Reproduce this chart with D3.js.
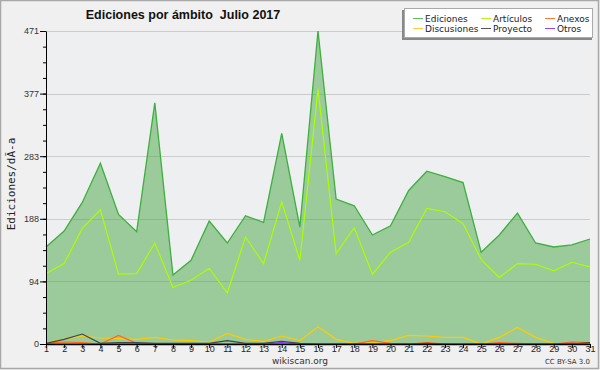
<!DOCTYPE html>
<html>
<head>
<meta charset="utf-8">
<script src="https://cdn.jsdelivr.net/npm/d3@7"></script>
<style>
  body { margin: 0; background: #f0f0f0; }
  svg { display: block; font-family: "DejaVu Sans", sans-serif; }
</style>
</head>
<body>
<div id="chart"></div>
<script>
// days of July 2017
var days = d3.range(1, 32);

// edits per day
var ediciones   = [146,170,213,272,195,169,363,104,126,185,152,193,183,317,176,471,218,208,164,178,231,260,252,243,138,164,197,152,146,149,158];
var articulos   = [106,121,174,202,105,106,152,85,96,114,77,161,121,214,126,384,136,175,105,138,153,204,199,181,127,100,121,120,110,123,116];
var discusiones = [2,7,12,9,8,7,10,6,5,3,16,7,4,12,5,26,7,1,2,5,13,12,10,10,0,10,25,10,1,0,0];
var proyecto    = [1,7,15,1,2,2,1,1,1,1,5,1,1,4,1,0,0,0,0,0,0,1,0,0,0,0,0,0,0,0,2];
var anexos      = [1,3,2,0,13,1,0,0,0,0,0,0,0,0,0,0,0,0,5,1,0,2,0,0,0,2,1,0,0,3,2];
var otros       = [0,0,0,0,0,0,0,0,0,0,0,0,0,2,0,0,0,0,0,0,0,0,0,0,0,0,0,0,0,1,0];

var yTicks = [0, 94.2, 188.4, 282.6, 376.8, 471];
var legendNames = ["Ediciones", "Artículos", "Anexos", "Discusiones", "Proyecto", "Otros"];
var legendColors = ["#5cc45c", "#bbee22", "#ff7733", "#ffcc33", "#555555", "#9944ee"];

var svgWidth = 600, svgHeight = 370;
var plot = { left: 46, right: 590, top: 31, bottom: 344 };

var svg = d3.select("#chart").append("svg")
  .attr("width", svgWidth)
  .attr("height", svgHeight);

// outer frame
svg.append("rect")
  .attr("x", 0.5).attr("y", 0.5)
  .attr("width", svgWidth - 2).attr("height", svgHeight - 2)
  .attr("fill", "#f0f0f0")
  .attr("stroke", "#a8a8a8")
  .attr("stroke-width", 1.5);

// plot background
svg.append("rect")
  .attr("x", plot.left).attr("y", plot.top)
  .attr("width", plot.right - plot.left).attr("height", plot.bottom - plot.top)
  .attr("fill", "#eeeff1");

var x = d3.scaleLinear().domain([1, 31]).range([plot.left, plot.right]);
var y = d3.scaleLinear().domain([0, 471]).range([plot.bottom, plot.top]);

// grid
svg.append("g").selectAll("line")
  .data(yTicks.slice(1))
  .enter().append("line")
  .attr("x1", plot.left).attr("x2", plot.right)
  .attr("y1", d => Math.round(y(d)) + 0.5)
  .attr("y2", d => Math.round(y(d)) + 0.5)
  .attr("stroke", "#cccccc");

// total area
var area = d3.area()
  .x((d, i) => x(days[i]))
  .y0(y(0))
  .y1(d => y(d));

svg.append("path")
  .datum(ediciones)
  .attr("d", area)
  .attr("fill", "rgb(72,165,69)")
  .attr("fill-opacity", 0.5);

var line = d3.line()
  .x((d, i) => x(days[i]))
  .y(d => y(d));

svg.append("path")
  .datum(ediciones)
  .attr("d", line)
  .attr("fill", "none")
  .attr("stroke", "#3cb03c")
  .attr("stroke-width", 1.3);

// the smaller series
var series = [
  [articulos, "#aaff00"],
  [discusiones, "#ffcc00"],
  [anexos, "#ff6622"],
  [proyecto, "#444444"],
  [otros, "#8833ff"]
];
series.forEach(function(s) {
  svg.append("path")
    .datum(s[0])
    .attr("d", line)
    .attr("fill", "none")
    .attr("stroke", s[1])
    .attr("stroke-width", 1.2);
});

// y axis with minor ticks
svg.append("g")
  .attr("transform", `translate(${plot.left},0)`)
  .call(d3.axisLeft(y).tickValues(d3.range(0, 471.01, 23.55)).tickSize(3).tickFormat(""))
  .call(g => g.select(".domain").remove());

var yAxis = svg.append("g")
  .attr("transform", `translate(${plot.left},0)`)
  .call(d3.axisLeft(y).tickValues(yTicks).tickSize(6).tickSizeOuter(0).tickFormat(d3.format(".0f")));
yAxis.selectAll("text").attr("font-size", 9).attr("fill", "#333").attr("x", -7);
yAxis.select(".domain").attr("stroke", "#000");

// x axis
var xAxis = svg.append("g")
  .attr("transform", `translate(0,${plot.bottom})`)
  .call(d3.axisBottom(x).tickValues(days).tickSize(4).tickSizeOuter(0).tickFormat(d3.format("d")));
xAxis.selectAll("text").attr("font-size", 9).attr("fill", "#222").attr("y", 2);
xAxis.select(".domain").attr("stroke", "#000").attr("stroke-width", 1.5);

// title
svg.append("text")
  .attr("x", 183).attr("y", 19)
  .attr("text-anchor", "middle")
  .attr("font-size", 12.5)
  .attr("font-weight", "bold")
  .attr("font-family", "Liberation Sans, Arial, sans-serif")
  .attr("fill", "#111")
  .attr("xml:space", "preserve")
  .text("Ediciones por ámbito  Julio 2017");

// y label
svg.append("text")
  .attr("transform", "translate(15,184) rotate(-90)")
  .attr("text-anchor", "middle")
  .attr("font-size", 11)
  .attr("font-family", "DejaVu Sans Mono")
  .attr("fill", "#222")
  .text("Ediciones/dÃ-a");

// footer
svg.append("text")
  .attr("x", 300).attr("y", 364)
  .attr("text-anchor", "middle")
  .attr("font-size", 9)
  .attr("fill", "#333")
  .text("wikiscan.org");

svg.append("text")
  .attr("x", 590).attr("y", 364)
  .attr("text-anchor", "end")
  .attr("font-size", 7)
  .attr("fill", "#333")
  .text("CC BY-SA 3.0");

// legend
var legend = svg.append("g");
legend.append("rect")
  .attr("x", 402).attr("y", 10).attr("width", 190).attr("height", 30)
  .attr("fill", "#888");
legend.append("rect")
  .attr("x", 404.5).attr("y", 8.5).attr("width", 188).attr("height", 29)
  .attr("fill", "#fff").attr("stroke", "#aaa");

var colX = [413, 481, 545];
legendNames.forEach(function(name, i) {
  var cx = colX[i % 3], cy = i < 3 ? 18.5 : 28.5;
  legend.append("line")
    .attr("x1", cx).attr("x2", cx + 10)
    .attr("y1", cy).attr("y2", cy)
    .attr("stroke", legendColors[i]);
  legend.append("text")
    .attr("x", cx + 12).attr("y", cy + 3.5)
    .attr("font-size", 9)
    .attr("fill", "#222")
    .text(name);
});
</script>
</body>
</html>
